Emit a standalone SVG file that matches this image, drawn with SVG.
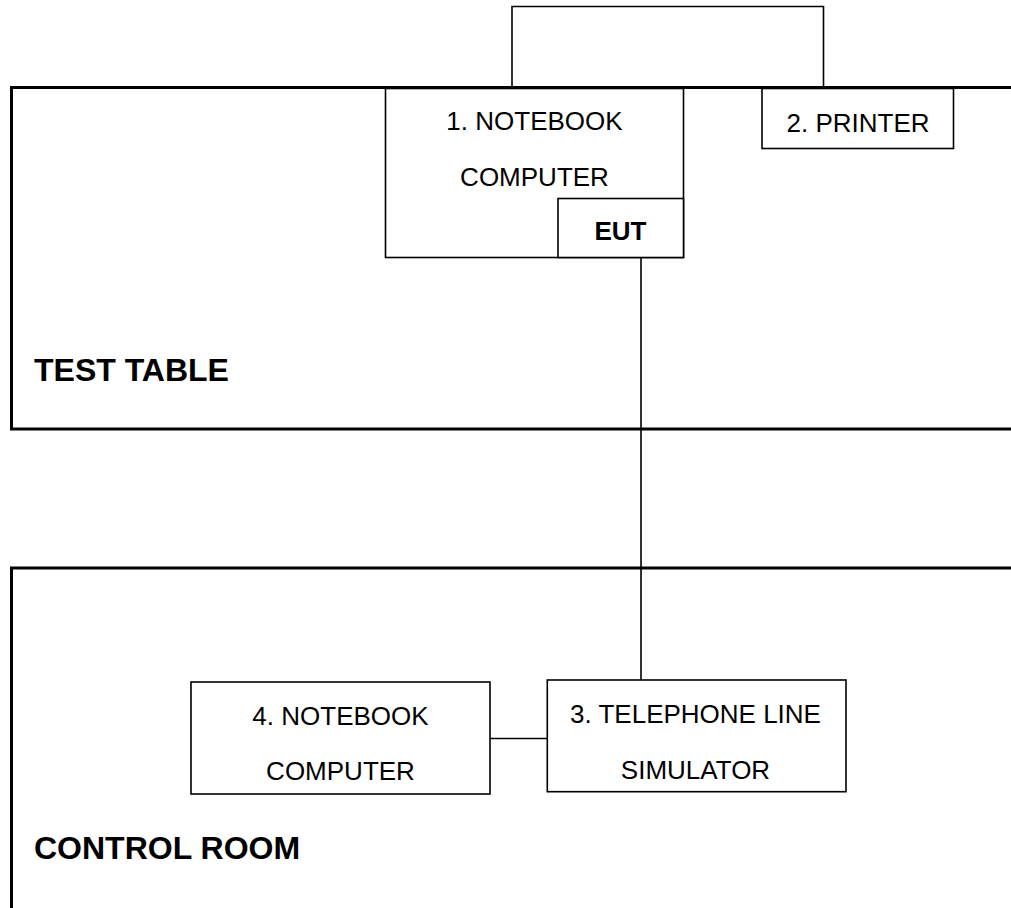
<svg xmlns="http://www.w3.org/2000/svg" width="1011" height="908" viewBox="0 0 1011 908">
<style>
.area{fill:none;stroke:#000;stroke-width:3}
.box{fill:#fff;stroke:#000;stroke-width:1.6}
.wire{fill:none;stroke:#000;stroke-width:1.6}
.t{font-family:"Liberation Sans",Arial,sans-serif;font-size:26px;fill:#000;text-anchor:middle}
.b{font-weight:bold}
.lbl{font-family:"Liberation Sans",Arial,sans-serif;font-size:32px;font-weight:bold;fill:#000}
</style>
<rect width="1011" height="908" fill="#fff"/>
<g id="test-table">
<path class="area" d="M1011 87.5 H11.5 V429 H1011"/>
<text class="lbl" x="34" y="381">TEST TABLE</text>
</g>
<g id="control-room">
<path class="area" d="M1011 568 H11.5 V908"/>
<text class="lbl" x="34" y="859">CONTROL ROOM</text>
</g>
<g id="connectors">
<path class="wire" d="M512 87 V6.5 H823.5 V87"/>
<path class="wire" d="M641 258 V680"/>
<path class="wire" d="M490 738.5 H547"/>
</g>
<g id="notebook1">
<rect class="box" x="385.5" y="88.5" width="298" height="169"/>
<text class="t" x="534.5" y="129.5">1. NOTEBOOK</text>
<text class="t" x="534.5" y="185.5">COMPUTER</text>
</g>
<g id="eut">
<rect class="box" x="558" y="198.5" width="125.5" height="59"/>
<text class="t b" x="620.5" y="240">EUT</text>
</g>
<g id="printer">
<rect class="box" x="762" y="88.5" width="191.5" height="60"/>
<text class="t" x="858" y="131.5">2. PRINTER</text>
</g>
<g id="notebook4">
<rect class="box" x="191" y="682" width="299" height="112"/>
<text class="t" x="340.5" y="724.5">4. NOTEBOOK</text>
<text class="t" x="340.5" y="780">COMPUTER</text>
</g>
<g id="simulator">
<rect class="box" x="547.3" y="680" width="298.7" height="111.7"/>
<text class="t" x="695.5" y="722.5">3. TELEPHONE LINE</text>
<text class="t" x="695.5" y="778.5">SIMULATOR</text>
</g>
</svg>
